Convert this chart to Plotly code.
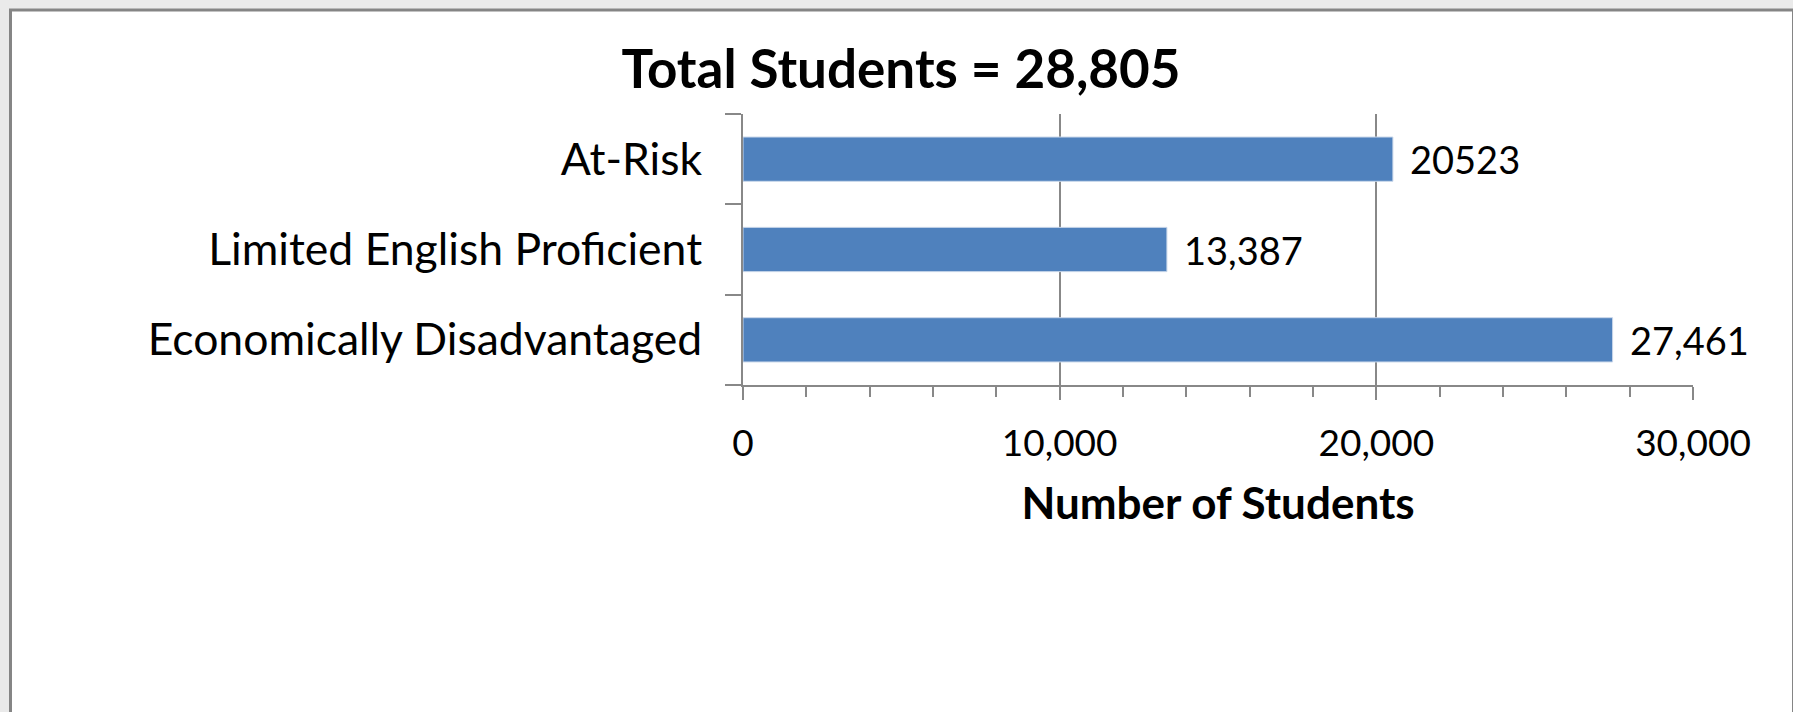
import plotly.graph_objects as go

# ---- data ----
categories = ["Economically Disadvantaged", "Limited English Proficient", "At-Risk"]
students = [27461, 13387, 20523]
value_labels = ["27,461", "13,387", "20523"]
chart_title = "Total Students = 28,805"
x_title = "Number of Students"
x_tickvals = [0, 10000, 20000, 30000]
x_ticktext = ["0", "10,000", "20,000", "30,000"]

# ---- layout geometry (pixels) ----
W, H = 1793, 712
L, R, T, B = 743, 100, 114, 327
PW, PH = W - L - R, H - T - B


def px_x(px):
    return (px - L) / PW


def px_y(py):
    return (H - B - py) / PH


FONT = "Lato"
GRAY = "#888888"

fig = go.Figure()
fig.add_trace(go.Bar(
    x=students, y=categories, orientation="h",
    marker=dict(color="#4F81BD", line=dict(color="#C9D7EA", width=1)),
    showlegend=False, hoverinfo="x+y",
))

# data labels
for cat, val, lab in zip(categories, students, value_labels):
    fig.add_annotation(x=val, y=cat, xref="x", yref="y", text=lab,
                       showarrow=False, xanchor="left", yanchor="middle",
                       xshift=15, font=dict(family=FONT, size=38, color="#000000"))

# chart frame
fig.add_shape(type="rect", xref="paper", yref="paper",
              x0=px_x(10.5), x1=px_x(1793.5), y0=px_y(740), y1=px_y(10),
              line=dict(color="#858585", width=3), fillcolor="#FFFFFF", layer="below")

fig.update_layout(
    width=W, height=H,
    margin=dict(l=L, r=R, t=T, b=B, pad=0),
    paper_bgcolor="#EAEAEA",
    plot_bgcolor="rgba(0,0,0,0)",
    bargap=0.51,
    title=dict(text=chart_title, xref="container", yref="container",
               x=901 / W, y=1 - 69 / H, xanchor="center", yanchor="middle",
               font=dict(family=FONT, size=53, color="#000000", weight="bold")),
    xaxis=dict(
        range=[0, 30000], tickvals=x_tickvals, ticktext=x_ticktext,
        showgrid=True, gridcolor=GRAY, gridwidth=2, zeroline=False,
        showline=True, linecolor=GRAY, linewidth=2,
        ticks="outside", ticklen=13, tickwidth=2, tickcolor=GRAY,
        ticklabelstandoff=12,
        tickfont=dict(family=FONT, size=37, color="#000000"),
        minor=dict(dtick=2000, tick0=0, ticks="outside", ticklen=10,
                   tickwidth=2, tickcolor=GRAY, showgrid=False),
        title=dict(text=x_title, standoff=25,
                   font=dict(family=FONT, size=44, color="#000000", weight="bold")),
        fixedrange=True,
    ),
    xaxis2=dict(
        overlaying="x", anchor="y", side="bottom", matches="x",
        tickmode="linear", tick0=0, dtick=2000,
        ticks="inside", ticklen=9, tickwidth=2, tickcolor=GRAY,
        showticklabels=False, showgrid=False, showline=False, zeroline=False,
    ),
    yaxis=dict(
        categoryorder="array", categoryarray=categories,
        showline=True, linecolor=GRAY, linewidth=2,
        ticks="outside", tickson="boundaries", ticklen=16, tickwidth=2, tickcolor=GRAY,
        ticklabelstandoff=30,
        tickfont=dict(family=FONT, size=44.5, color="#000000"),
        showgrid=False, zeroline=False, fixedrange=True,
    ),
)

fig.write_html("out.html", config={"displayModeBar": False},
               post_script="document.body.style.margin='0px';")
